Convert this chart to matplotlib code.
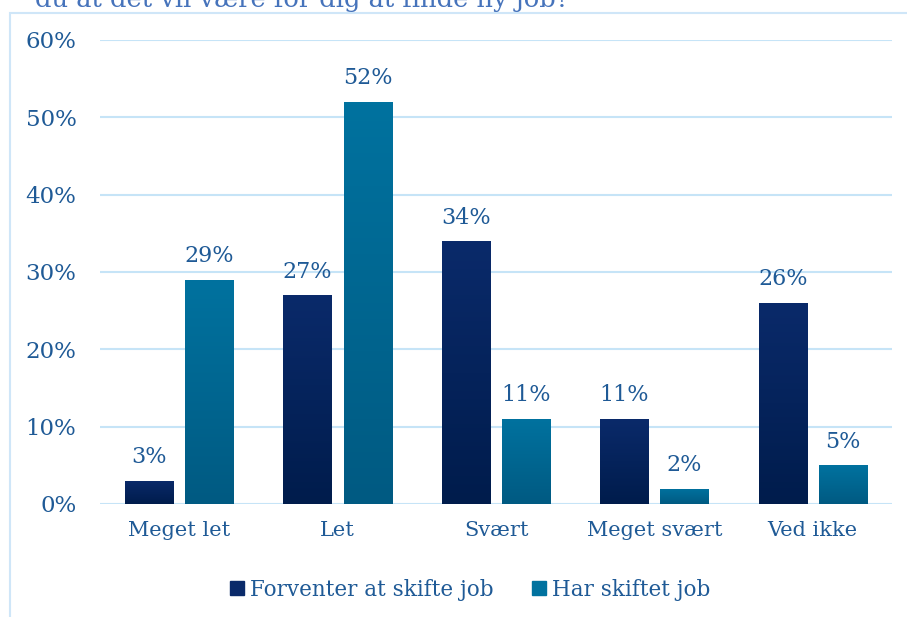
import matplotlib
matplotlib.use("Agg")
import matplotlib.pyplot as plt
import numpy as np
from matplotlib.patches import Rectangle
from matplotlib.lines import Line2D
from matplotlib.colors import LinearSegmentedColormap

categories = ["Meget let", "Let", "Svært", "Meget svært", "Ved ikke"]
series_names = ["Forventer at skifte job", "Har skiftet job"]
forventer = [3, 27, 34, 11, 26]
har_skiftet = [29, 52, 11, 2, 5]
yticks = [0, 10, 20, 30, 40, 50, 60]
title_text = "du at det vil være for dig at finde ny job?"

txt = "#1f5a96"
grid_c = "#c6e4f7"
colors_top = ["#0a2a6a", "#00729f"]
colors_bot = ["#001c4c", "#005a82"]

plt.rcParams['font.family'] = ['DejaVu Serif']

fig = plt.figure(figsize=(9.07, 6.17), dpi=100)
W, H = 907, 617
# frame
fig.add_artist(Rectangle((10 / W, -0.1), 1.2, 1 - 12.5 / H + 0.1, transform=fig.transFigure,
                         fill=False, edgecolor="#cfe6f8", linewidth=1.5))
fig.text(35 / W, 1 - 7 / H, title_text, color="#4673bb", fontsize=18.5, va="baseline", ha="left")

ax = fig.add_axes([100 / W, 1 - 504 / H, 792 / W, (504 - 40) / H])
x = np.arange(len(categories))
bw = 0.305
off = 0.19
b1 = ax.bar(x - off, forventer, bw, color=colors_top[0], zorder=3)
b2 = ax.bar(x + off, har_skiftet, bw, color=colors_top[1], zorder=3)

for bars, ct, cb in [(b1, colors_top[0], colors_bot[0]), (b2, colors_top[1], colors_bot[1])]:
    cmap = LinearSegmentedColormap.from_list("g", [cb, ct])
    for b in bars:
        x0, y0 = b.get_x(), b.get_y()
        w, h = b.get_width(), b.get_height()
        grad = np.linspace(0, 1, 100).reshape(-1, 1)
        im = ax.imshow(grad, extent=(x0, x0 + w, y0, y0 + h), origin="lower",
                       cmap=cmap, aspect="auto", zorder=3.5)
        im.set_clip_path(b)
        ax.annotate(f"{int(round(h))}%", (x0 + w / 2, h), xytext=(0, 9),
                    textcoords="offset points", ha="center", va="bottom",
                    color=txt, fontsize=16)

ax.set_xlim(-0.5, len(categories) - 0.5)
ax.set_ylim(0, 60)
ax.set_yticks(yticks)
ax.set_yticklabels([f"{v}%" for v in yticks])
ax.set_xticks(x)
ax.set_xticklabels(categories)
ax.tick_params(axis="both", length=0, colors=txt)
ax.tick_params(axis="y", pad=17, labelsize=16.5)
ax.tick_params(axis="x", pad=12, labelsize=15)
ax.grid(axis="y", color=grid_c, linewidth=1.5, zorder=0)
for s in ax.spines.values():
    s.set_visible(False)

handles = [Line2D([0], [0], marker="s", linestyle="", markersize=10,
                  markerfacecolor=c, markeredgecolor=c) for c in colors_top]
leg = fig.legend(handles, series_names, loc="center", bbox_to_anchor=(468 / W, 1 - 590 / H),
                 ncol=2, frameon=False, fontsize=15.5, handletextpad=0.1, columnspacing=1.6,
                 handlelength=1.0)
for t in leg.get_texts():
    t.set_color(txt)

fig.savefig("out.png", dpi=100)
